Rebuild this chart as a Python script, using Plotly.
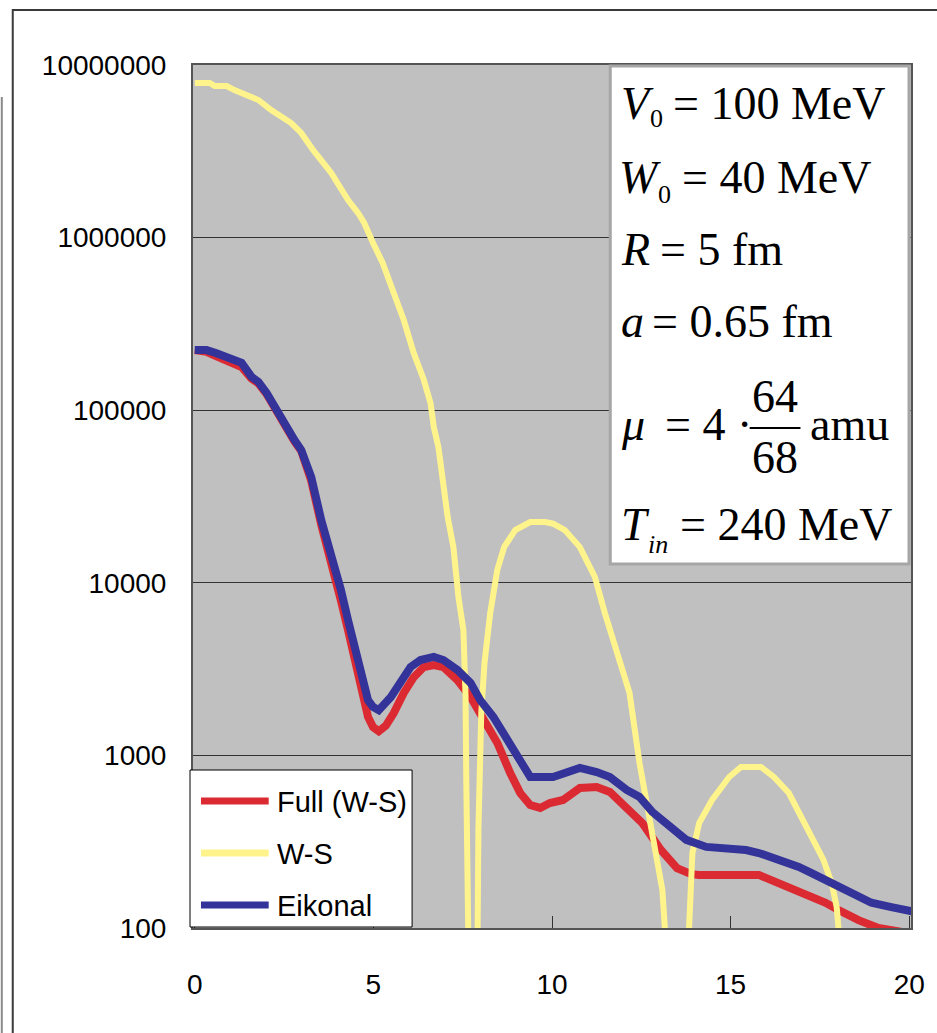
import plotly.graph_objects as go

# ---------------- data ----------------
series_names = ["Full (W-S)", "W-S", "Eikonal"]

x_full = [0, 0.33, 0.61, 0.89, 1.11, 1.31, 1.59, 1.78, 2.01, 2.23,
          2.42, 2.62, 2.79, 2.98, 3.12, 3.26, 3.54, 3.82, 4.09, 4.29,
          4.57, 4.74, 4.85, 4.99, 5.15, 5.35, 5.57, 5.85, 6.13, 6.41,
          6.69, 6.96, 7.35, 7.72, 7.99, 8.47, 8.83, 9.11, 9.39, 9.67,
          9.94, 10.31, 10.78, 11.25, 11.62, 12.09, 12.53, 13.05, 13.5, 13.9,
          14.12, 15.79, 15.99, 16.35, 16.71, 17.27, 17.66, 18.02, 18.58, 19.14,
          19.69, 20.31]
y_full = [2.23e5, 2.18e5, 2.05e5, 1.95e5, 1.84e5, 1.78e5, 1.52e5, 1.43e5, 1.24e5, 1.03e5,
          8.7e4, 7.6e4, 6.6e4, 5.8e4, 4.8e4, 3.9e4, 2.17e4, 1.36e4, 7.9e3, 5.33e3,
          2.92e3, 1.96e3, 1.67e3, 1.46e3, 1.38e3, 1.49e3, 1.76e3, 2.30e3, 2.84e3, 3.25e3,
          3.34e3, 3.25e3, 2.73e3, 2.18e3, 1.76e3, 1.18e3, 791, 605, 516, 496,
          530, 552, 647, 656, 614, 503, 405, 283, 222, 205,
          203, 203, 195, 185, 171, 151, 140, 127, 111, 100,
          95, 91]

x_ws = [0, 0.42, 0.56, 0.89, 1.11, 1.78, 2.14, 2.70, 2.98, 3.31,
        3.82, 4.29, 4.57, 4.74, 4.99, 5.26, 5.57, 5.85, 6.13, 6.41,
        6.60, 6.69, 6.82, 6.94, 7.08, 7.24, 7.38, 7.52, 7.58, 7.60,
        7.63, 7.75, 7.91, 7.94, 8.02, 8.11, 8.27, 8.47, 8.66, 8.97,
        9.39, 9.81, 10.03, 10.36, 10.78, 11.20, 11.48, 11.84, 12.17, 12.45,
        12.73, 13.09, 13.23, 13.50, 13.79, 13.93, 14.12, 14.48, 14.96, 15.29,
        15.85, 16.21, 16.63, 16.99, 17.33, 17.60, 17.83, 17.97, 18.11, 18.40]
y_ws = [7.87e6, 7.87e6, 7.56e6, 7.56e6, 7.16e6, 6.27e6, 5.48e6, 4.61e6, 4.04e6, 3.22e6,
        2.37e6, 1.65e6, 1.39e6, 1.22e6, 9.31e5, 7.13e5, 4.78e5, 3.33e5, 2.14e5, 1.50e5,
        1.10e5, 8.0e4, 6.12e4, 3.94e4, 2.40e4, 1.61e4, 8.28e3, 5.33e3, 2.18e3, 719,
        60, 3, 60, 370, 1.76e3, 3.43e3, 6.68e3, 1.19e4, 1.61e4, 2.02e4,
        2.25e4, 2.25e4, 2.2e4, 2.02e4, 1.61e4, 1.08e4, 6.68e3, 3.92e3, 2.30e3, 904,
        420, 166, 60, 3, 60, 272, 405, 552, 750, 857,
        857, 750, 605, 440, 324, 248, 182, 132, 60, 3]

x_eik = [0, 0.33, 0.61, 0.89, 1.11, 1.31, 1.59, 1.78, 2.01, 2.23,
         2.42, 2.62, 2.79, 2.98, 3.12, 3.26, 3.54, 3.82, 4.09, 4.29,
         4.57, 4.85, 4.99, 5.15, 5.49, 5.77, 6.04, 6.32, 6.69, 6.96,
         7.35, 7.72, 7.99, 8.36, 8.75, 9.11, 9.39, 10.03, 10.42, 10.78,
         11.25, 11.62, 12.09, 12.45, 12.81, 13.37, 13.76, 14.32, 14.87, 15.43,
         15.79, 16.16, 16.91, 17.27, 17.83, 18.38, 18.94, 19.50, 19.97, 20.31]
y_eik = [2.23e5, 2.23e5, 2.14e5, 2.03e5, 1.90e5, 1.88e5, 1.56e5, 1.46e5, 1.26e5, 1.04e5,
         8.78e4, 7.68e4, 6.72e4, 5.88e4, 4.94e4, 4.10e4, 2.31e4, 1.49e4, 9.1e3, 6.08e3,
         3.72e3, 2.09e3, 1.91e3, 1.83e3, 2.18e3, 2.63e3, 3.25e3, 3.57e3, 3.72e3, 3.57e3,
         3.13e3, 2.63e3, 2.09e3, 1.67e3, 1.23e3, 904, 750, 750, 801, 846,
         801, 750, 631, 574, 470, 370, 324, 295, 291, 283,
         272, 258, 226, 208, 182, 160, 140, 132, 127, 122]

x_ticks = [0, 5, 10, 15, 20]
y_ticks = [100, 1000, 10000, 100000, 1000000, 10000000]
y_ticktext = ["100", "1000", "10000", "100000", "1000000", "10000000"]

# parameter box text pieces: (text, italic, size, x px, y px (middle), anchor)
FS, FSUB = 46, 26
param_pieces = [
    ("V", True, FS, 622, 103.5, "left"), ("0", False, FSUB, 651, 119, "left"),
    ("= 100 MeV", False, FS, 674, 103.5, "left"),
    ("W", True, FS, 620, 177.5, "left"), ("0", False, FSUB, 659, 194, "left"),
    ("= 40 MeV", False, FS, 683, 177.5, "left"),
    ("R", True, FS, 622, 249.5, "left"), ("= 5 fm", False, FS, 661, 249.5, "left"),
    ("a", True, FS, 622, 321.5, "left"), ("= 0.65 fm", False, FS, 653, 321.5, "left"),
    ("μ", True, FS, 622, 424.5, "left"), ("= 4 ·", False, FS, 666, 424.5, "left"),
    ("64", False, FS, 777, 396.5, "center"), ("68", False, FS, 777, 457.5, "center"),
    ("amu", False, FS, 812, 424.5, "left"),
    ("T", True, FS, 622, 524.5, "left"), ("in", True, FSUB, 649, 544, "left"),
    ("= 240 MeV", False, FS, 681, 524.5, "left"),
]

colors = ["#DC2A32", "#FFF48C", "#333399"]
widths = [8, 6, 8]

# ---------------- layout geometry ----------------
W, H = 937, 1033
ML, MR, MT, MB = 193, 23, 65, 105
PW, PH = W - ML - MR, H - MT - MB


def fx(p):
    return (p - ML) / PW


def fy(p):
    return (H - MB - p) / PH


SANS = "Liberation Sans, Arial, sans-serif"
SERIF = "Liberation Serif, Times New Roman, serif"

fig = go.Figure()
for xs, ys, name, c, w in zip([x_full, x_ws, x_eik], [y_full, y_ws, y_eik],
                               series_names, colors, widths):
    fig.add_trace(go.Scatter(x=xs, y=ys, name=name, mode="lines",
                             line=dict(color=c, width=w), showlegend=False))

shapes = []
annotations = []

# outer frame
shapes.append(dict(type="rect", xref="paper", yref="paper",
                   x0=fx(12), x1=fx(990), y0=fy(1090), y1=fy(10),
                   line=dict(color="#3a3a3a", width=2), layer="above"))
shapes.append(dict(type="line", xref="paper", yref="paper",
                   x0=fx(1), x1=fx(1), y0=fy(97), y1=fy(1090),
                   line=dict(color="#8a8a8a", width=2), layer="above"))

# parameter box
shapes.append(dict(type="rect", xref="paper", yref="paper",
                   x0=fx(612), x1=fx(912), y0=fy(564), y1=fy(66),
                   fillcolor="white", line=dict(color="#A6A6A6", width=3), layer="above"))
for t, ital, sz, xp, yp, anc in param_pieces:
    annotations.append(dict(text=t, xref="paper", yref="paper", x=fx(xp), y=fy(yp),
                            xanchor=anc, yanchor="middle", showarrow=False, borderpad=0,
                            font=dict(family=SERIF, size=sz, color="black",
                                      style="italic" if ital else "normal")))
shapes.append(dict(type="line", xref="paper", yref="paper",
                   x0=fx(752), x1=fx(803), y0=fy(428), y1=fy(428),
                   line=dict(color="black", width=2), layer="above"))

# legend box (drawn by hand to match the sample-line length)
shapes.append(dict(type="rect", xref="paper", yref="paper",
                   x0=fx(190), x1=fx(413), y0=fy(927), y1=fy(770),
                   fillcolor="white", line=dict(color="black", width=1), layer="above"))
leg_y = [801, 853, 905]
for name, c, ly in zip(series_names, colors, leg_y):
    shapes.append(dict(type="line", xref="paper", yref="paper",
                       x0=fx(201), x1=fx(269), y0=fy(ly), y1=fy(ly),
                       line=dict(color=c, width=7), layer="above"))
    annotations.append(dict(text=name, xref="paper", yref="paper", x=fx(275), y=fy(ly + 1),
                            xanchor="left", yanchor="middle", showarrow=False,
                            font=dict(family=SANS, size=29, color="black")))

fig.update_layout(
    width=W, height=H,
    margin=dict(l=ML, r=MR, t=MT, b=MB, pad=0),
    paper_bgcolor="white", plot_bgcolor="#C0C0C0",
    shapes=shapes, annotations=annotations,
    showlegend=False,
    xaxis=dict(range=[-0.05, 20.05], tickvals=x_ticks, ticks="inside", ticklen=12,
               tickcolor="#333333", tickwidth=1, showgrid=False, zeroline=False,
               showline=True, mirror=True, linecolor="#555555", linewidth=2,
               tickfont=dict(family=SANS, size=28, color="black"),
               ticklabelstandoff=30),
    yaxis=dict(type="log", range=[2, 7], tickvals=y_ticks, ticktext=y_ticktext,
               ticks="inside", ticklen=9, tickcolor="#333333", tickwidth=1,
               showgrid=True, gridcolor="#333333", gridwidth=1, zeroline=False,
               showline=True, mirror=True, linecolor="#555555", linewidth=2,
               tickfont=dict(family=SANS, size=28, color="black"),
               ticklabelstandoff=19),
)

fig.write_html("out.html")
